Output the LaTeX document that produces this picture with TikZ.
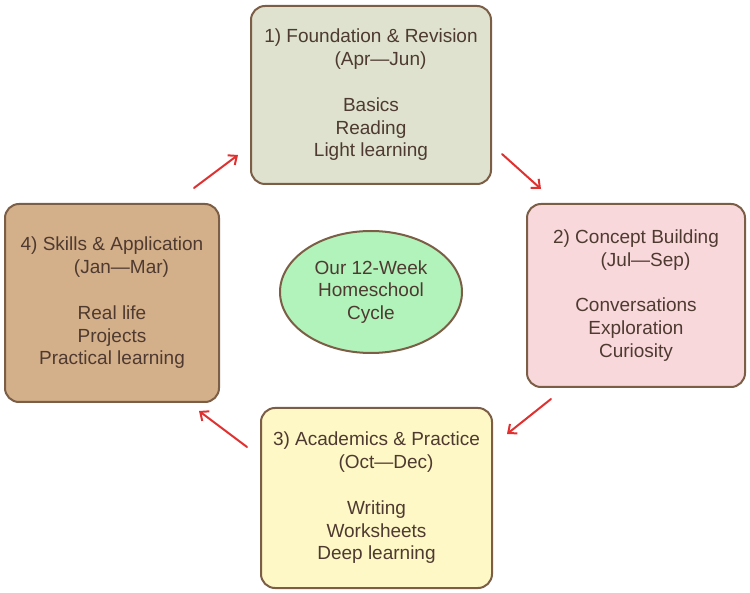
\documentclass[tikz,border=0pt]{standalone}
\usepackage{fontspec}
\setmainfont{Liberation Sans}
\usetikzlibrary{arrows.meta,shapes.geometric}
\definecolor{edge}{HTML}{7B5E45}
\definecolor{ink}{HTML}{4E3A30}
\definecolor{fillA}{HTML}{DEE2CF}
\definecolor{fillB}{HTML}{F9D8DC}
\definecolor{fillC}{HTML}{FDF8C6}
\definecolor{fillD}{HTML}{D4B08A}
\definecolor{fillE}{HTML}{B2F2BB}
\definecolor{arr}{HTML}{E03131}
\begin{document}
\begin{tikzpicture}[x=1pt,y=-1pt,
  phase/.style={draw=edge, line width=2pt, rounded corners=14pt, inner sep=0pt,
    align=center, text=ink, font=\fontsize{19}{22.8}\selectfont},
  hub/.style={ellipse, draw=edge, line width=2pt, fill=fillE, inner sep=0pt,
    minimum width=182pt, minimum height=122pt, align=center, text=ink,
    font=\fontsize{19}{22.8}\selectfont},
  flow/.style={draw=arr, line width=2pt, line cap=round, -{Straight Barb[length=7pt,width=12pt,line width=2pt]}}]
\useasboundingbox (0,0) rectangle (750,593);
\node[phase, fill=fillA, minimum width=240pt, minimum height=178pt] (p1) at (371,95)
  {1) Foundation \& Revision\\\hphantom{xx}(Apr—Jun)\\[22.8pt]Basics\\Reading\\Light learning};
\node[phase, fill=fillB, minimum width=218pt, minimum height=183pt] (p2) at (636,295.5)
  {2) Concept Building\\\hphantom{xx}(Jul—Sep)\\[22.8pt]Conversations\\Exploration\\Curiosity};
\node[phase, fill=fillC, minimum width=231pt, minimum height=180pt] (p3) at (376.5,498)
  {3) Academics \& Practice\\\hphantom{xx}(Oct—Dec)\\[22.8pt]Writing\\Worksheets\\Deep learning};
\node[phase, fill=fillD, minimum width=214pt, minimum height=198pt] (p4) at (112,303)
  {4) Skills \& Application\\\hphantom{xx}(Jan—Mar)\\[22.8pt]Real life\\Projects\\Practical learning};
\node[hub] (hub) at (371,292) {Our 12-Week\\Homeschool\\Cycle};
\coordinate (a1s) at (502,154); \coordinate (a1e) at (541,189);
\coordinate (a2s) at (551,399); \coordinate (a2e) at (507,434);
\coordinate (a3s) at (247,447); \coordinate (a3e) at (199,411);
\coordinate (a4s) at (194,188); \coordinate (a4e) at (238,155);
\draw[flow] (a1s) -- (a1e);
\draw[flow] (a2s) -- (a2e);
\draw[flow] (a3s) -- (a3e);
\draw[flow] (a4s) -- (a4e);
\end{tikzpicture}
\end{document}
